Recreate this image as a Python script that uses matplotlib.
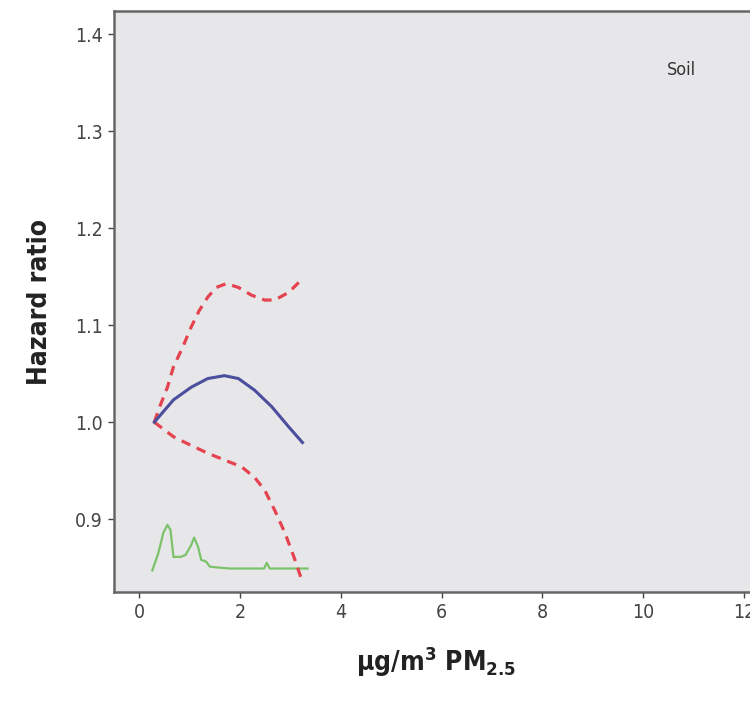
import matplotlib.pyplot as plt

# hazard ratio curve (solid blue)
hr_x = [0.30, 0.68, 1.03, 1.36, 1.69, 1.97, 2.29, 2.63, 2.97, 3.24]
hr_y = [1.000, 1.023, 1.036, 1.045, 1.048, 1.045, 1.033, 1.016, 0.995, 0.979]

# upper 95% CI (dashed red)
up_x = [0.30, 0.40, 0.56, 0.68, 0.86, 1.03, 1.19, 1.36, 1.53, 1.73, 1.97, 2.23, 2.49, 2.69, 2.97, 3.24]
up_y = [1.000, 1.015, 1.036, 1.057, 1.077, 1.098, 1.115, 1.129, 1.139, 1.143, 1.139, 1.131, 1.126, 1.126, 1.134, 1.148]

# lower 95% CI (dashed red)
lo_x = [0.30, 0.68, 1.03, 1.36, 1.69, 2.03, 2.29, 2.49, 2.69, 2.89, 3.07, 3.24]
lo_y = [1.000, 0.985, 0.976, 0.968, 0.961, 0.954, 0.943, 0.930, 0.909, 0.886, 0.861, 0.835]

# distribution of exposure (green)
dens_x = [0.26, 0.38, 0.48, 0.56, 0.62, 0.68, 0.82, 0.92, 1.03, 1.09, 1.17, 1.23, 1.33, 1.40,
          1.57, 1.80, 2.00, 2.20, 2.40, 2.48, 2.53, 2.59, 2.80, 3.00, 3.20, 3.34]
dens_y = [0.847, 0.865, 0.886, 0.894, 0.889, 0.861, 0.861, 0.863, 0.873, 0.881, 0.871, 0.858, 0.856, 0.851,
          0.850, 0.849, 0.849, 0.849, 0.849, 0.849, 0.855, 0.849, 0.849, 0.849, 0.849, 0.849]

xticks = [0, 2, 4, 6, 8, 10, 12]
yticks = [0.9, 1.0, 1.1, 1.2, 1.3, 1.4]

plt.rcParams['font.family'] = ['DejaVu Sans']
plt.rcParams['font.stretch'] = 'condensed'

fig = plt.figure(figsize=(7.5, 7.02), dpi=100)
ax = fig.add_axes([0.152, 0.157, 0.86, 0.827])
ax.set_facecolor('#e7e7e9')

ax.plot(dens_x, dens_y, color='#7cc26a', lw=1.6)
ax.plot(up_x, up_y, color='#e4434f', lw=2.3, ls=(0, (3, 2.2)))
ax.plot(lo_x, lo_y, color='#e4434f', lw=2.3, ls=(0, (3, 2.2)))
ax.plot(hr_x, hr_y, color='#4a4e9c', lw=2.2)

ax.text(10.77, 1.363, 'Soil', fontsize=13, color='#333333', ha='center', va='center')

ax.set_xlim(-0.5, 12.3)
ax.set_ylim(0.825, 1.424)
ax.set_xticks(xticks)
ax.set_yticks(yticks)
ax.set_yticklabels([f'{v:.1f}' for v in yticks])
ax.tick_params(labelsize=14, colors='#444444', length=4, width=1.0, direction='out', pad=4)

for side in ['left', 'bottom', 'top']:
    ax.spines[side].set_color('#666666')
    ax.spines[side].set_linewidth(1.8)
ax.spines['right'].set_visible(False)

ax.set_xlabel('µg/m$^\\mathbf{3}$ PM$_\\mathbf{2.5}$', fontsize=19, fontweight='bold',
              color='#222222', labelpad=16)
ax.set_ylabel('Hazard ratio', fontsize=19, fontweight='bold', color='#222222', labelpad=16)

plt.savefig('out.png', dpi=100)
